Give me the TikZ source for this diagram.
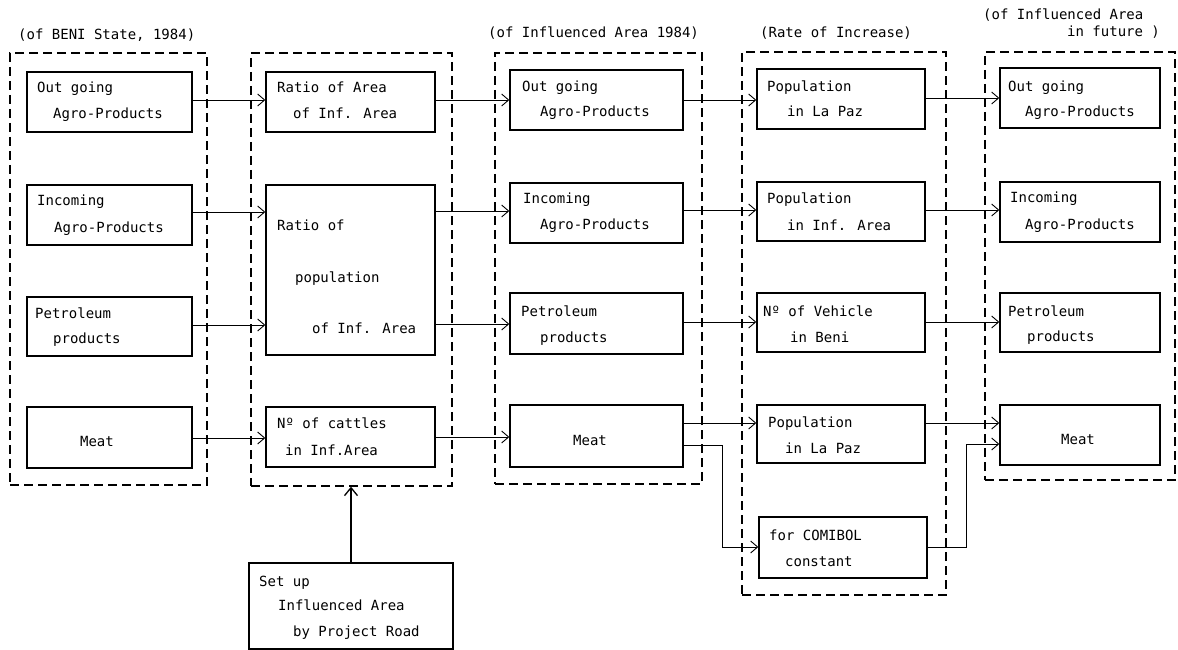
\documentclass[tikz,border=0pt]{standalone}
\usepackage{fontspec}
\newfontfamily\typefont{DejaVu Sans Mono}
\usetikzlibrary{arrows.meta,fit}
\tikzset{
  inbox/.style={draw, line width=1.4pt, inner sep=0pt},
  grp/.style={draw, line width=1.3pt, dash pattern=on 9pt off 5pt, inner sep=0pt},
  txt/.style={font=\typefont\fontsize{14}{16}\selectfont, inner sep=0pt, anchor=base west},
  ctxt/.style={txt, anchor=base},
  arr/.style={line width=0.9pt, -{Straight Barb[length=7pt,width=12pt,line width=0.9pt]}},
  uparr/.style={line width=1.6pt, -{Straight Barb[length=8pt,width=13pt,line width=1.3pt]}},
}
\begin{document}
\begin{tikzpicture}[x=1pt,y=-1pt]
\useasboundingbox (0,0) rectangle (1178,650);

% dashed groups
\node[grp, fit={(10,53) (207,485)}] (g1) {};
\node[grp, fit={(251,53) (452,486)}] (g2) {};
\node[grp, fit={(495,53) (702,484)}] (g3) {};
\node[grp, fit={(742,52) (946,595)}] (g4) {};
\node[grp, fit={(985,52) (1175,480)}] (g5) {};

% group headings
\node[txt] (h1) at (18,40) {(of BENI State, 1984)};
\node[txt] (h3) at (488,38) {(of Influenced Area 1984)};
\node[txt] (h4) at (760,38) {(Rate of Increase)};
\node[txt] (h5a) at (983,20) {(of Influenced Area};
\node[txt] (h5b) at (1067,37) {in future )};

% column 1
\node[inbox, fit={(27,72) (192,132)}] (b11) {};
\node[inbox, fit={(27,185) (192,245)}] (b12) {};
\node[inbox, fit={(27,297) (192,356)}] (b13) {};
\node[inbox, fit={(27,407) (192,468)}] (b14) {};
\node[txt] (t11a) at (37,93) {Out going};
\node[txt] (t11b) at (53,119) {Agro-Products};
\node[txt] (t12a) at (37,205) {Incoming};
\node[txt] (t12b) at (54,232) {Agro-Products};
\node[txt] (t13a) at (35,318) {Petroleum};
\node[txt] (t13b) at (53,343) {products};
\node[ctxt] (t14) at (97,446) {Meat};

% column 2
\node[inbox, fit={(266,72) (435,132)}] (b21) {};
\node[inbox, fit={(266,185) (435,355)}] (b22) {};
\node[inbox, fit={(266,407) (435,467)}] (b24) {};
\node[txt] (t21a) at (277,93) {Ratio of Area};
\node[txt] (t21b) at (293,119) {of Inf. Area};
\node[txt] (t22a) at (277,230) {Ratio of};
\node[txt] (t22b) at (295,282) {population};
\node[txt] (t22c) at (312,333) {of Inf. Area};
\node[txt] (t24a) at (277,428) {Nº of cattles};
\node[txt] (t24b) at (285,455) {in Inf.Area};

% column 3
\node[inbox, fit={(510,70) (683,130)}] (b31) {};
\node[inbox, fit={(510,183) (683,243)}] (b32) {};
\node[inbox, fit={(510,293) (683,354)}] (b33) {};
\node[inbox, fit={(510,405) (683,467)}] (b34) {};
\node[txt] (t31a) at (522,92) {Out going};
\node[txt] (t31b) at (540,117) {Agro-Products};
\node[txt] (t32a) at (523,203) {Incoming};
\node[txt] (t32b) at (540,229) {Agro-Products};
\node[txt] (t33a) at (521,316) {Petroleum};
\node[txt] (t33b) at (540,342) {products};
\node[ctxt] (t34) at (590,445) {Meat};

% column 4
\node[inbox, fit={(757,69) (925,129)}] (b41) {};
\node[inbox, fit={(757,182) (925,241)}] (b42) {};
\node[inbox, fit={(757,293) (925,352)}] (b43) {};
\node[inbox, fit={(757,405) (925,463)}] (b44) {};
\node[inbox, fit={(759,517) (927,578)}] (b45) {};
\node[txt] (t41a) at (767,92) {Population};
\node[txt] (t41b) at (787,117) {in La Paz};
\node[txt] (t42a) at (767,203) {Population};
\node[txt] (t42b) at (787,230) {in Inf. Area};
\node[txt] (t43a) at (763,316) {Nº of Vehicle};
\node[txt] (t43b) at (790,342) {in Beni};
\node[txt] (t44a) at (768,427) {Population};
\node[txt] (t44b) at (785,453) {in La Paz};
\node[txt] (t45a) at (769,540) {for COMIBOL};
\node[txt] (t45b) at (785,566) {constant};

% column 5
\node[inbox, fit={(1000,68) (1160,128)}] (b51) {};
\node[inbox, fit={(1000,182) (1160,242)}] (b52) {};
\node[inbox, fit={(1000,293) (1160,352)}] (b53) {};
\node[inbox, fit={(1000,405) (1160,465)}] (b54) {};
\node[txt] (t51a) at (1008,92) {Out going};
\node[txt] (t51b) at (1025,117) {Agro-Products};
\node[txt] (t52a) at (1010,202) {Incoming};
\node[txt] (t52b) at (1025,229) {Agro-Products};
\node[txt] (t53a) at (1008,316) {Petroleum};
\node[txt] (t53b) at (1027,341) {products};
\node[ctxt] (t54) at (1078,444) {Meat};

% road set-up box
\node[inbox, fit={(249,563) (453,649)}] (setup) {};
\node[txt] (ts1) at (259,586) {Set up};
\node[txt] (ts2) at (278,610) {Influenced Area};
\node[txt] (ts3) at (293,636) {by Project Road};

% row levels of the connectors
\coordinate (r1) at (0,100);
\coordinate (r1b) at (0,98);
\coordinate (r2a) at (0,212);
\coordinate (r2b) at (0,211);
\coordinate (r2c) at (0,210);
\coordinate (r3a) at (0,325);
\coordinate (r3b) at (0,324);
\coordinate (r3c) at (0,322);
\coordinate (r4a) at (0,438);
\coordinate (r4b) at (0,437);
\coordinate (r4c) at (0,423);
\coordinate (r4d) at (0,445);
\coordinate (j1) at (722,547);
\coordinate (j2) at (966,444);

% row 1
\draw[arr] (b11.east |- r1) -- (b21.west |- r1);
\draw[arr] (b21.east |- r1) -- (b31.west |- r1);
\draw[arr] (b31.east |- r1) -- (b41.west |- r1);
\draw[arr] (b41.east |- r1b) -- (b51.west |- r1b);
% row 2
\draw[arr] (b12.east |- r2a) -- (b22.west |- r2a);
\draw[arr] (b22.east |- r2b) -- (b32.west |- r2b);
\draw[arr] (b32.east |- r2c) -- (b42.west |- r2c);
\draw[arr] (b42.east |- r2c) -- (b52.west |- r2c);
% row 3
\draw[arr] (b13.east |- r3a) -- (b22.west |- r3a);
\draw[arr] (b22.east |- r3b) -- (b33.west |- r3b);
\draw[arr] (b33.east |- r3c) -- (b43.west |- r3c);
\draw[arr] (b43.east |- r3c) -- (b53.west |- r3c);
% row 4
\draw[arr] (b14.east |- r4a) -- (b24.west |- r4a);
\draw[arr] (b24.east |- r4b) -- (b34.west |- r4b);
\draw[arr] (b34.east |- r4c) -- (b44.west |- r4c);
\draw[arr] (b44.east |- r4c) -- (b54.west |- r4c);
% COMIBOL branch
\draw[arr] (b34.east |- r4d) -| (j1) -- (b45.west |- j1);
\draw[arr] (b45.east |- j1) -| (j2) -- (b54.west |- j2);
% set-up feeds the ratio group
\draw[uparr] (setup.north) -- (setup.north |- g2.south);
\end{tikzpicture}
\end{document}
